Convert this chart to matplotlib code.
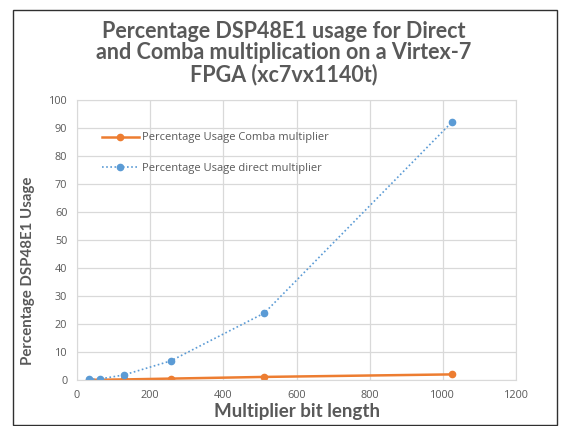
import matplotlib.pyplot as plt
from matplotlib.patches import Rectangle

bit_length = [32, 64, 128, 256, 512, 1024]
comba_usage = [0.1, 0.1, 0.2, 0.5, 1.1, 2.0]
direct_usage = [0.2, 0.4, 1.8, 6.8, 23.9, 92.0]

label_comba = 'Percentage Usage Comba multiplier'
label_direct = 'Percentage Usage direct multiplier'
title = 'Percentage DSP48E1 usage for Direct\nand Comba multiplication on a Virtex-7\nFPGA (xc7vx1140t)'

plt.rcParams['font.family'] = ['Open Sans', 'DejaVu Sans']
grey = '#595959'

fig = plt.figure(figsize=(5.62, 4.26), dpi=100)
# outer chart border
fig.patches.append(Rectangle((13 / 562, 1 / 426), 544 / 562, 415 / 426, transform=fig.transFigure,
                             fill=False, edgecolor='#303030', linewidth=1.0))

ax = fig.add_axes([77 / 562, 46 / 426, 439 / 562, 280 / 426])
ax.plot(bit_length, comba_usage, color='#ED7D31', linewidth=1.8, marker='o', markersize=4.5,
        label=label_comba)
ax.plot(bit_length, direct_usage, color='#5B9BD5', linewidth=1.2, linestyle=(0, (1, 1.5)),
        marker='o', markersize=4.5, label=label_direct)

ax.set_xlim(0, 1200)
ax.set_ylim(0, 100)
ax.set_xticks(range(0, 1201, 200))
ax.set_yticks(range(0, 101, 10))
ax.grid(True, color='#D9D9D9', linewidth=0.9)
ax.set_axisbelow(True)
for s in ax.spines.values():
    s.set_color('#D9D9D9')
ax.tick_params(length=0, labelsize=7.8, labelcolor=grey, pad=7)

ax.set_xlabel('Multiplier bit length', fontsize=13.5, fontweight='bold', color=grey, labelpad=2,
              family='Lato')
ax.set_ylabel('Percentage DSP48E1 Usage', fontsize=10.8, fontweight='bold', color=grey,
              family='Lato')
ax.yaxis.set_label_coords(-0.095, 0.39)
fig.text(0.505, 0.95, title, ha='center', va='top', fontsize=15.5, fontweight='bold',
         color=grey, linespacing=1.0, family='Lato')

leg = ax.legend(loc='upper left', bbox_to_anchor=(0.034, 0.92), frameon=False,
                prop={'size': 8}, labelspacing=1.75, handlelength=3.3, handletextpad=0.3)
for t in leg.get_texts():
    t.set_color(grey)

plt.savefig('out.png')
